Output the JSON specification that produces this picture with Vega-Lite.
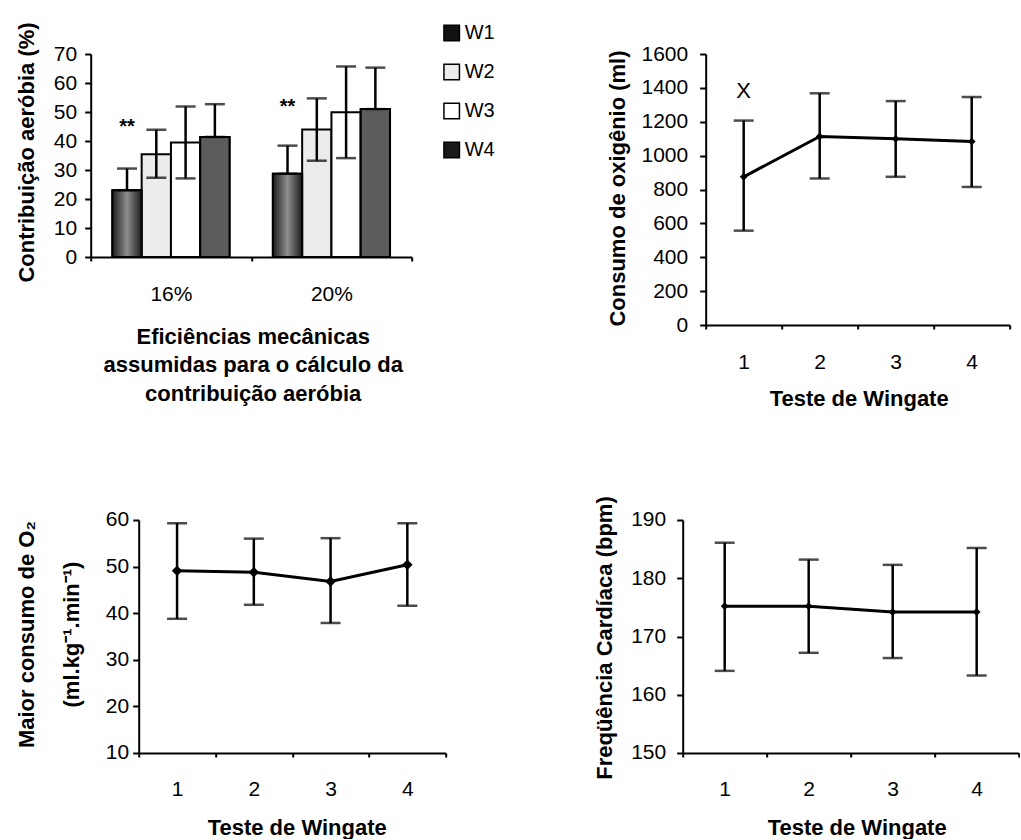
{
  "$schema": "https://vega.github.io/schema/vega-lite/v6.json",
  "background": "white",
  "padding": {"left": 14.7, "top": 21, "right": 0, "bottom": 0},
  "config": {
    "font": "Liberation Sans",
    "view": {"stroke": null},
    "axis": {
      "labelFont": "Liberation Sans", "titleFont": "Liberation Sans",
      "labelFontSize": 21, "titleFontSize": 22, "titleFontWeight": "bold",
      "labelColor": "black", "titleColor": "black",
      "domainColor": "black", "domainWidth": 2,
      "tickColor": "black", "tickWidth": 2, "grid": false,
      "labelOverlap": false
    }
  },
  "spacing": 85,
  "vconcat": [
    {
      "bounds": "flush",
      "spacing": 294,
      "hconcat": [
        {
          "width": 321, "height": 203,
          "data": {"values": [
            {"e": "16%", "w": "W1", "v": 23.0, "lo": 23.0, "hi": 30.5},
            {"e": "16%", "w": "W2", "v": 35.4, "lo": 27.3, "hi": 43.9},
            {"e": "16%", "w": "W3", "v": 39.5, "lo": 27.1, "hi": 51.9},
            {"e": "16%", "w": "W4", "v": 41.4, "lo": 41.4, "hi": 52.7},
            {"e": "20%", "w": "W1", "v": 28.7, "lo": 28.7, "hi": 38.4},
            {"e": "20%", "w": "W2", "v": 44.0, "lo": 33.2, "hi": 54.7},
            {"e": "20%", "w": "W3", "v": 49.9, "lo": 34.1, "hi": 65.7},
            {"e": "20%", "w": "W4", "v": 51.0, "lo": 51.0, "hi": 65.3}
          ]},
          "encoding": {
            "x": {
              "field": "e", "type": "nominal", "sort": ["16%", "20%"],
              "scale": {"paddingInner": 0, "paddingOuter": 0},
              "axis": {
                "title": ["Eficiências mecânicas", "assumidas para o cálculo da", "contribuição aeróbia"],
                "labelAngle": 0, "tickBand": "extent", "tickSize": 4, "labelPadding": 22,
                "titleLineHeight": 28.5, "titleX": 162, "titleY": 69.4,
                "titleBaseline": "top", "titleAlign": "center"
              }
            },
            "xOffset": {
              "field": "w", "type": "nominal", "sort": ["W1", "W2", "W3", "W4"],
              "scale": {"paddingInner": 0, "paddingOuter": 0.74}
            }
          },
          "layer": [
            {
              "mark": {"type": "bar", "stroke": "black", "strokeWidth": 2},
              "encoding": {
                "y": {
                  "field": "v", "type": "quantitative",
                  "scale": {"domain": [0, 70], "nice": false},
                  "axis": {
                    "title": "Contribuição aeróbia (%)",
                    "values": [0, 10, 20, 30, 40, 50, 60, 70], "tickCount": 8, "format": "d",
                    "tickSize": 6, "labelPadding": 8,
                    "titleX": -52.4, "titleY": 98, "titleAngle": -90,
                    "titleBaseline": "bottom", "titleAlign": "center"
                  }
                },
                "color": {
                  "field": "w", "type": "nominal",
                  "scale": {"domain": ["W1", "W2", "W3", "W4"], "range": ["#111111", "#ececec", "#ffffff", "#1a1a1a"]},
                  "legend": {
                    "orient": "none", "legendX": 351, "legendY": -31, "title": null,
                    "symbolType": "square", "symbolSize": 240,
                    "symbolStrokeColor": "black", "symbolStrokeWidth": 1.5,
                    "labelFontSize": 20, "labelFont": "Liberation Sans", "labelColor": "black",
                    "rowPadding": 17, "labelOffset": 3, "padding": 0
                  }
                }
              }
            },
            {
              "transform": [{"filter": "datum.w === 'W1' || datum.w === 'W4'"}],
              "mark": {"type": "bar", "stroke": "black", "strokeWidth": 2},
              "encoding": {
                "y": {"field": "v", "type": "quantitative"},
                "fill": {
                  "condition": {
                    "test": "datum.w === 'W1'",
                    "value": {
                      "gradient": "linear", "x1": 0, "y1": 0, "x2": 1, "y2": 0,
                      "stops": [
                        {"offset": 0, "color": "#1c1c1c"},
                        {"offset": 0.5, "color": "#8e8e8e"},
                        {"offset": 1, "color": "#1c1c1c"}
                      ]
                    }
                  },
                  "value": "#5c5c5c"
                }
              }
            },
            {
              "mark": {"type": "rule", "strokeWidth": 2.5, "color": "black"},
              "encoding": {"y": {"field": "lo", "type": "quantitative"}, "y2": {"field": "hi"}}
            },
            {
              "mark": {"type": "tick", "thickness": 2.5, "size": 20, "color": "black"},
              "encoding": {"y": {"field": "hi", "type": "quantitative"}}
            },
            {
              "mark": {"type": "tick", "thickness": 2.5, "size": 20, "color": "black"},
              "encoding": {"y": {"field": "lo", "type": "quantitative"}}
            },
            {
              "data": {"values": [
                {"e": "16%", "w": "W1", "y": 44.8, "t": "**"},
                {"e": "20%", "w": "W1", "y": 51.7, "t": "**"}
              ]},
              "mark": {"type": "text", "fontSize": 20, "fontWeight": "bold", "font": "Liberation Sans", "baseline": "middle", "color": "black"},
              "encoding": {"y": {"field": "y", "type": "quantitative"}, "text": {"field": "t"}}
            }
          ]
        },
        {
          "width": 304, "height": 271,
          "data": {"values": [
            {"t": "1", "v": 875, "lo": 557, "hi": 1207},
            {"t": "2", "v": 1113, "lo": 865, "hi": 1368},
            {"t": "3", "v": 1099, "lo": 875, "hi": 1322},
            {"t": "4", "v": 1083, "lo": 815, "hi": 1346}
          ]},
          "encoding": {
            "x": {
              "field": "t", "type": "ordinal",
              "scale": {"type": "band", "paddingInner": 0, "paddingOuter": 0},
              "axis": {
                "title": "Teste de Wingate", "labelAngle": 0, "tickBand": "extent",
                "tickSize": 4, "labelPadding": 22, "titleX": 153, "titleY": 63.4,
                "titleBaseline": "top", "titleAlign": "center"
              }
            }
          },
          "layer": [
            {
              "mark": {"type": "line", "color": "black", "strokeWidth": 3},
              "encoding": {
                "y": {
                  "field": "v", "type": "quantitative",
                  "scale": {"domain": [0, 1600], "nice": false},
                  "axis": {
                    "title": "Consumo de oxigênio (ml)",
                    "values": [0, 200, 400, 600, 800, 1000, 1200, 1400, 1600], "tickCount": 9, "format": "d",
                    "tickSize": 6, "labelPadding": 12,
                    "titleX": -75.7, "titleY": 134, "titleAngle": -90,
                    "titleBaseline": "bottom", "titleAlign": "center"
                  }
                }
              }
            },
            {
              "mark": {"type": "rule", "strokeWidth": 2.5, "color": "black"},
              "encoding": {"y": {"field": "lo", "type": "quantitative"}, "y2": {"field": "hi"}}
            },
            {
              "mark": {"type": "tick", "thickness": 2.5, "size": 20, "color": "black"},
              "encoding": {"y": {"field": "hi", "type": "quantitative"}}
            },
            {
              "mark": {"type": "tick", "thickness": 2.5, "size": 20, "color": "black"},
              "encoding": {"y": {"field": "lo", "type": "quantitative"}}
            },
            {
              "mark": {"type": "point", "shape": "diamond", "filled": true, "color": "black", "size": 60, "opacity": 1},
              "encoding": {"y": {"field": "v", "type": "quantitative"}}
            },
            {
              "data": {"values": [{"t": "1", "y": 1382, "s": "X"}]},
              "mark": {"type": "text", "fontSize": 22, "font": "Liberation Sans", "baseline": "middle", "color": "black"},
              "encoding": {"y": {"field": "y", "type": "quantitative"}, "text": {"field": "s"}}
            }
          ]
        }
      ]
    },
    {
      "bounds": "flush",
      "spacing": 40,
      "hconcat": [
        {
          "width": 8, "height": 1,
          "data": {"values": []},
          "mark": "point"
        },
        {
          "bounds": "flush",
          "spacing": 237,
          "hconcat": [
            {
              "width": 307, "height": 233,
              "data": {"values": [
                {"t": "1", "v": 49.1, "lo": 38.8, "hi": 59.3},
                {"t": "2", "v": 48.8, "lo": 41.8, "hi": 56.0},
                {"t": "3", "v": 46.8, "lo": 37.9, "hi": 56.1},
                {"t": "4", "v": 50.4, "lo": 41.6, "hi": 59.3}
              ]},
              "encoding": {
                "x": {
                  "field": "t", "type": "ordinal",
                  "scale": {"type": "band", "paddingInner": 0, "paddingOuter": 0},
                  "axis": {
                    "title": "Teste de Wingate", "labelAngle": 0, "tickBand": "extent",
                    "tickSize": 4, "labelPadding": 22, "titleX": 158, "titleY": 64.4,
                    "titleBaseline": "top", "titleAlign": "center"
                  }
                }
              },
              "layer": [
                {
                  "mark": {"type": "line", "color": "black", "strokeWidth": 3},
                  "encoding": {
                    "y": {
                      "field": "v", "type": "quantitative",
                      "scale": {"domain": [10, 60], "nice": false, "zero": false},
                      "axis": {
                        "title": ["Maior consumo de O₂", "(ml.kg⁻¹.min⁻¹)"],
                        "values": [10, 20, 30, 40, 50, 60], "tickCount": 6, "format": "d",
                        "tickSize": 6, "labelPadding": 4,
                        "titleLineHeight": 45,
                        "titleX": -100.1, "titleY": 114, "titleAngle": -90,
                        "titleBaseline": "bottom", "titleAlign": "center"
                      }
                    }
                  }
                },
                {
                  "mark": {"type": "rule", "strokeWidth": 2.5, "color": "black"},
                  "encoding": {"y": {"field": "lo", "type": "quantitative"}, "y2": {"field": "hi"}}
                },
                {
                  "mark": {"type": "tick", "thickness": 2.5, "size": 20, "color": "black"},
                  "encoding": {"y": {"field": "hi", "type": "quantitative"}}
                },
                {
                  "mark": {"type": "tick", "thickness": 2.5, "size": 20, "color": "black"},
                  "encoding": {"y": {"field": "lo", "type": "quantitative"}}
                },
                {
                  "mark": {"type": "point", "shape": "diamond", "filled": true, "color": "black", "size": 110, "opacity": 1},
                  "encoding": {"y": {"field": "v", "type": "quantitative"}}
                }
              ]
            },
            {
              "width": 336, "height": 233,
              "data": {"values": [
                {"t": "1", "v": 175.2, "lo": 164.1, "hi": 186.1},
                {"t": "2", "v": 175.2, "lo": 167.2, "hi": 183.2},
                {"t": "3", "v": 174.2, "lo": 166.3, "hi": 182.3},
                {"t": "4", "v": 174.2, "lo": 163.3, "hi": 185.2}
              ]},
              "encoding": {
                "x": {
                  "field": "t", "type": "ordinal",
                  "scale": {"type": "band", "paddingInner": 0, "paddingOuter": 0},
                  "axis": {
                    "title": "Teste de Wingate", "labelAngle": 0, "tickBand": "extent",
                    "tickSize": 4, "labelPadding": 22, "titleX": 174, "titleY": 64.4,
                    "titleBaseline": "top", "titleAlign": "center"
                  }
                }
              },
              "layer": [
                {
                  "mark": {"type": "line", "color": "black", "strokeWidth": 3},
                  "encoding": {
                    "y": {
                      "field": "v", "type": "quantitative",
                      "scale": {"domain": [150, 190], "nice": false, "zero": false},
                      "axis": {
                        "title": "Freqüência Cardíaca (bpm)",
                        "values": [150, 160, 170, 180, 190], "tickCount": 5, "format": "d",
                        "tickSize": 6, "labelPadding": 11,
                        "titleX": -66.1, "titleY": 117.5, "titleAngle": -90,
                        "titleBaseline": "bottom", "titleAlign": "center"
                      }
                    }
                  }
                },
                {
                  "mark": {"type": "rule", "strokeWidth": 2.5, "color": "black"},
                  "encoding": {"y": {"field": "lo", "type": "quantitative"}, "y2": {"field": "hi"}}
                },
                {
                  "mark": {"type": "tick", "thickness": 2.5, "size": 20, "color": "black"},
                  "encoding": {"y": {"field": "hi", "type": "quantitative"}}
                },
                {
                  "mark": {"type": "tick", "thickness": 2.5, "size": 20, "color": "black"},
                  "encoding": {"y": {"field": "lo", "type": "quantitative"}}
                },
                {
                  "mark": {"type": "point", "shape": "diamond", "filled": true, "color": "black", "size": 60, "opacity": 1},
                  "encoding": {"y": {"field": "v", "type": "quantitative"}}
                }
              ]
            }
          ]
        }
      ]
    }
  ]
}
